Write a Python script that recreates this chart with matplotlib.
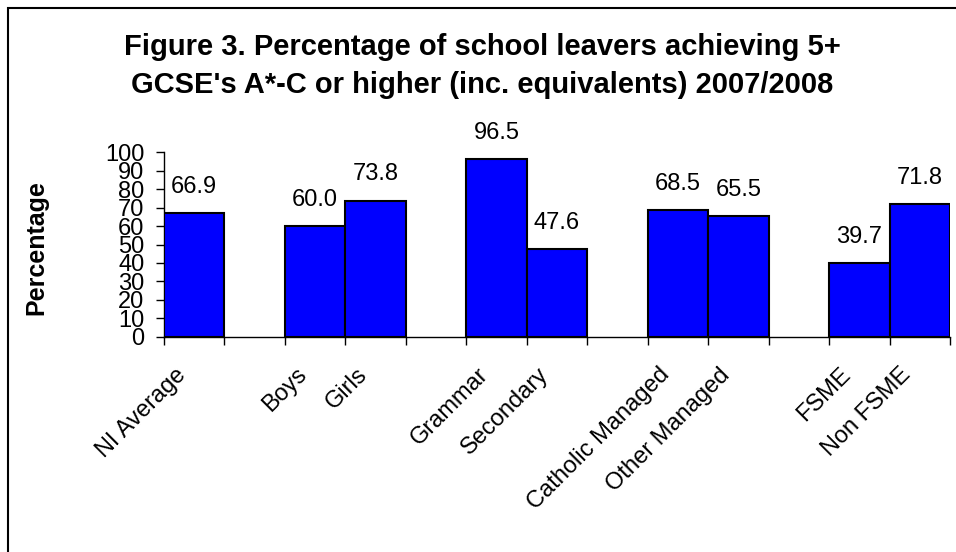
import numpy as np
import matplotlib.pyplot as plt
import matplotlib.transforms as mtransforms
from matplotlib.patches import Rectangle

plt.rcParams['font.family'] = ['Liberation Sans', 'DejaVu Sans']

# categories in slot order (None = empty gap slot)
categories = ["NI Average", None, "Boys", "Girls", None, "Grammar", "Secondary", None,
              "Catholic Managed", "Other Managed", None, "FSME", "Non FSME"]
values = [66.9, None, 60.0, 73.8, None, 96.5, 47.6, None, 68.5, 65.5, None, 39.7, 71.8]
yticks = list(range(0, 101, 10))

fig = plt.figure(figsize=(9.56, 5.52), dpi=100)
ax = fig.add_axes([164/956, 1 - 336.7/552, (950 - 164)/956, (336.7 - 152.3)/552])

pos = [i + 0.5 for i, v in enumerate(values) if v is not None]
vals = [v for v in values if v is not None]
labels = [c for c in categories if c is not None]

bars = ax.bar(pos, vals, width=1.0, color='#0000FF', edgecolor='black', linewidth=1.5, zorder=3)
for b, v in zip(bars, vals):
    ax.annotate("%.1f" % v, (b.get_x() + b.get_width()/2, v), xytext=(0, 14.5),
                textcoords='offset points', ha='center', va='baseline', fontsize=17)

ax.set_xlim(0, len(categories))
ax.set_ylim(0, 100)
ax.set_yticks(yticks)
ax.tick_params(axis='y', labelsize=17, length=6, width=1, pad=8)

# tick marks at slot boundaries, labels at bar centres
ax.set_xticks(np.arange(0, len(categories) + 1))
ax.set_xticklabels([])
ax.tick_params(axis='x', which='major', length=6, width=1)
ax.set_xticks(pos, minor=True)
ax.set_xticklabels(labels, minor=True, rotation=45, ha='right', va='center',
                   rotation_mode='anchor', fontsize=17)
ax.tick_params(axis='x', which='minor', length=0, pad=25)
shift = mtransforms.ScaledTranslation(-12/100, 0, fig.dpi_scale_trans)
for lab in ax.get_xticklabels(minor=True):
    lab.set_transform(lab.get_transform() + shift)

for s in ['top', 'right']:
    ax.spines[s].set_visible(False)
ax.spines['left'].set_linewidth(1)
ax.spines['bottom'].set_linewidth(1)

ax.set_ylabel("Percentage", fontsize=18, fontweight='bold')
ax.yaxis.set_label_coords(48/956, 1 - 248/552, transform=fig.transFigure)

fig.text(482/956, 1 - 66/552,
         "Figure 3. Percentage of school leavers achieving 5+\nGCSE's A*-C or higher (inc. equivalents) 2007/2008",
         ha='center', va='center', fontsize=21, fontweight='bold', linespacing=1.45)

fig.patches.append(Rectangle((8/956, -0.1), 1.2, 1 - 8/552 + 0.1, transform=fig.transFigure,
                             fill=False, edgecolor='black', linewidth=1.5))

fig.savefig("out.png", dpi=100)
